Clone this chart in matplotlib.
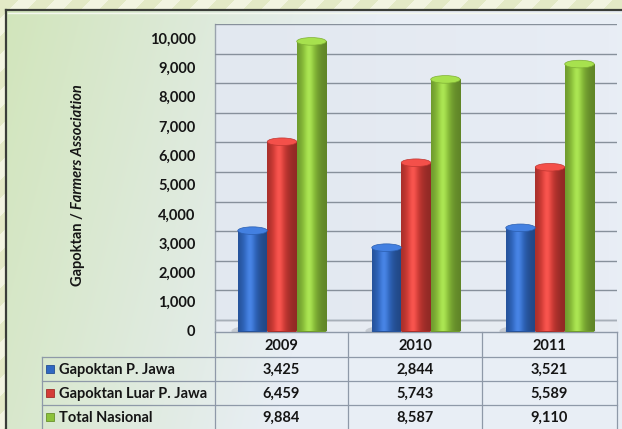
import matplotlib
matplotlib.use("Agg")
import matplotlib.pyplot as plt
import numpy as np
from matplotlib.colors import to_rgb
from matplotlib.patches import Ellipse, Rectangle

YEARS = ["2009", "2010", "2011"]
SERIES = ["Gapoktan P. Jawa", "Gapoktan Luar P. Jawa", "Total Nasional"]
JAWA = [3425, 2844, 3521]
LUAR_JAWA = [6459, 5743, 5589]
NASIONAL = [9884, 8587, 9110]
COLORS = ["#3068c2", "#d43c36", "#8cc23a"]
Y_TICKS = list(range(0, 10001, 1000))

W, H = 622, 429
PX_PER_UNIT = 0.0293          # front plane scale (pixels per value unit)
BACK_OFFSET = 375             # back wall sits a little higher than the bars
BACK_SCALE = 1.01
BAR_W = 0.22
CAP_H = 260
COL_X = [42, 215, 348, 482, 617]
ROW_Y = [332, 357, 381, 405, 429]
TEXT = "#151515"
LINE = "#8e99a8"

plt.rcParams["font.family"] = ["Lato", "DejaVu Sans"]
plt.rcParams["font.weight"] = "bold"

fig = plt.figure(figsize=(W / 100, H / 100), dpi=100)

# background layer in pixel coordinates
bg = fig.add_axes([0, 0, 1, 1])
bg.axis("off")
yy, xx = np.mgrid[0:H, 0:W]
stripes = ((xx + yy) // 18) % 2
slide = np.where(stripes[..., None] == 1, to_rgb("#f2f4e1"), to_rgb("#e3e9c6"))
bg.imshow(slide, extent=[0, W, H, 0], aspect="auto", zorder=0)

t = np.clip((xx + 0.25 * yy) / 380.0, 0, 1)[..., None]
panel = (1 - t) * np.array(to_rgb("#d1e5ba")) + t * np.array(to_rgb("#e8eef5"))
panel_rect = Rectangle((6, 10), W, H, transform=bg.transData, facecolor="none")
bg.add_patch(panel_rect)
im = bg.imshow(panel, extent=[0, W, H, 0], aspect="auto", zorder=1)
im.set_clip_path(panel_rect)
bg.plot([6, W], [10, 10], color="#3a3d38", lw=1.6, zorder=2)
bg.plot([6, 6], [10, H], color="#3a3d38", lw=1.6, zorder=2)
bg.plot([8, W], [12.5, 12.5], color="#f4f8ee", lw=1.0, zorder=2)

# back wall
wall = np.linspace(0, 1, 50)[None, :, None]
wall_img = (1 - wall) * np.array(to_rgb("#e2e8f0")) + wall * np.array(to_rgb("#e8edf5"))
bg.imshow(wall_img, extent=[COL_X[1], COL_X[-1], 320, 24], aspect="auto", zorder=1.5)
bg.plot([COL_X[1], COL_X[1]], [24, 332], color="#9aa3ad", lw=1.0, zorder=2)

# floor edge
bg.fill_between([COL_X[1], COL_X[-1]], 320, ROW_Y[0], color="#e7ecf2", zorder=1.6)
bg.plot([COL_X[1], COL_X[-1]], [ROW_Y[0], ROW_Y[0]], color=LINE, lw=1.0, zorder=2)

bg.set_xlim(0, W)
bg.set_ylim(H, 0)

# chart axes (front plane of the 3D columns)
ax_bottom = ROW_Y[0]
ax = fig.add_axes([COL_X[1] / W, (H - ax_bottom) / H,
                   (COL_X[-1] - COL_X[1]) / W, (ax_bottom - 24) / H])
ax.patch.set_alpha(0)
for s in ax.spines.values():
    s.set_visible(False)

for v in Y_TICKS:
    gy = BACK_OFFSET + v * BACK_SCALE
    ax.plot([-0.5, 2.5], [gy, gy], color="#87909b", lw=1.0, zorder=1)
ax.plot([-0.5, 2.5], [BACK_OFFSET, BACK_OFFSET], color="#a7afb8", lw=1.0, zorder=1)


def shade(color, n=64):
    base = np.array(to_rgb(color))
    tt = np.linspace(0, 1, n)
    k = 0.74 + 0.36 * np.exp(-((tt - 0.4) / 0.3) ** 2) - 0.06 * tt
    glow = 0.08 * np.exp(-((tt - 0.4) / 0.14) ** 2)
    cols = np.clip(base[None, :] * k[:, None] + glow[:, None], 0, 1)
    return cols[None, :, :]


series_values = [JAWA, LUAR_JAWA, NASIONAL]
x = np.arange(len(YEARS))
for i, (vals, col) in enumerate(zip(series_values, COLORS)):
    offs = (i - 1) * BAR_W
    base = np.array(to_rgb(col))
    for xi, v in zip(x, vals):
        cx = xi + offs
        # floor shadow
        ax.add_patch(Ellipse((cx - 0.02, 0), BAR_W * 1.25, CAP_H * 1.3,
                             facecolor="#7d848e", alpha=0.3, edgecolor="none", zorder=2))
        ax.add_patch(Ellipse((cx, 0), BAR_W, CAP_H,
                             facecolor=base * 0.8, edgecolor="none", zorder=3))
        body = Rectangle((cx - BAR_W / 2, 0), BAR_W, v, facecolor="none",
                         edgecolor="none", zorder=3)
        ax.add_patch(body)
        img = ax.imshow(shade(col), extent=[cx - BAR_W / 2, cx + BAR_W / 2, 0, v],
                        aspect="auto", zorder=3, interpolation="bilinear")
        img.set_clip_path(body)
        top = np.clip(base * 1.08 + 0.06, 0, 1)
        ax.add_patch(Ellipse((cx, v), BAR_W, CAP_H, facecolor=top,
                             edgecolor=base * 0.9, lw=0.5, zorder=4))

ylo = -(ax_bottom - 331) / PX_PER_UNIT
yhi = (331 - 24) / PX_PER_UNIT
ax.set_xlim(-0.5, 2.5)
ax.set_ylim(ylo, yhi)
ax.set_xticks([])
ax.set_yticks(Y_TICKS)
ax.set_yticklabels([f"{v:,}" for v in Y_TICKS])
ax.tick_params(axis="y", length=0, pad=14, labelsize=10.5, labelcolor=TEXT)

# axis title: plain part and italic part
fig.canvas.draw()
renderer = fig.canvas.get_renderer()
t1 = bg.text(80, 0, "Gapoktan / ", rotation=90, ha="center", va="bottom",
             rotation_mode="anchor", fontsize=10.5, color=TEXT)
t2 = bg.text(80, 0, "Farmers Association", rotation=90, ha="center", va="bottom",
             rotation_mode="anchor", fontsize=10.5, color=TEXT, style="italic")
h1 = t1.get_window_extent(renderer).height
h2 = t2.get_window_extent(renderer).height
start = 185 + (h1 + h2) / 2
t1.set_position((85, start))
t1.set_ha("left")
t2.set_position((85, start - h1))
t2.set_ha("left")

# data table under the chart
for y in ROW_Y[1:-1]:
    bg.plot([COL_X[0], COL_X[-1]], [y, y], color=LINE, lw=0.9, zorder=3)
bg.plot([COL_X[0], COL_X[0]], [ROW_Y[1], H], color=LINE, lw=0.9, zorder=3)
for cxp in COL_X[1:]:
    bg.plot([cxp, cxp], [ROW_Y[0], H], color=LINE, lw=0.9, zorder=3)

col_centers = [(a + b) / 2 for a, b in zip(COL_X[1:-1], COL_X[2:])]
hdr_y = (ROW_Y[0] + ROW_Y[1]) / 2
for cxp, yr in zip(col_centers, YEARS):
    bg.text(cxp, hdr_y + 1, yr, ha="center", va="center", fontsize=10.5, color=TEXT, zorder=4)

for r, (name, vals, col) in enumerate(zip(SERIES, series_values, COLORS)):
    ry = (ROW_Y[r + 1] + ROW_Y[r + 2]) / 2
    bg.add_patch(Rectangle((46, ry - 4.5), 8, 8, facecolor=col,
                           edgecolor=np.array(to_rgb(col)) * 0.75, lw=0.6, zorder=4))
    bg.text(59, ry + 1, name, ha="left", va="center", fontsize=10.5, color=TEXT, zorder=4)
    for cxp, v in zip(col_centers, vals):
        bg.text(cxp, ry + 1, f"{v:,}", ha="center", va="center", fontsize=10.5,
                color=TEXT, zorder=4)

bg.set_xlim(0, W)
bg.set_ylim(H, 0)

fig.savefig("out.png", dpi=100)
